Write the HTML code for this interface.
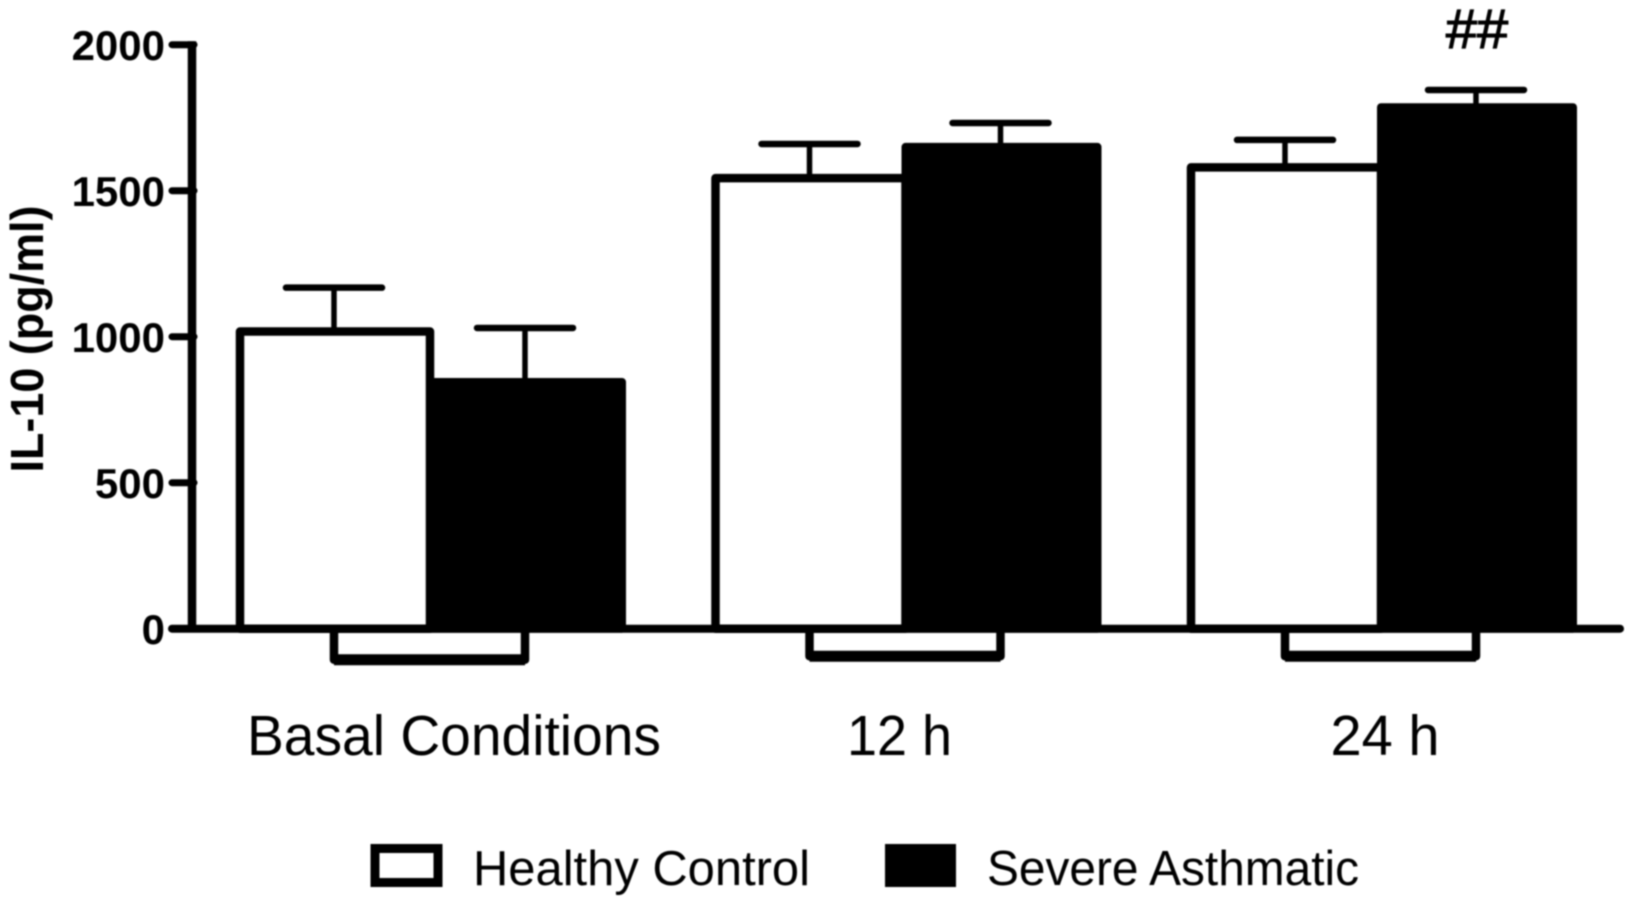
<!DOCTYPE html>
<html lang="en">
<head>
<meta charset="utf-8">
<title>IL-10 bar chart</title>
<style>
html,body{margin:0;padding:0;background:#fff;}
body{width:1625px;height:906px;overflow:hidden;}
svg{display:block;filter:blur(0.7px);}
text{font-family:"Liberation Sans",Arial,sans-serif;fill:#000;}
</style>
</head>
<body>
<svg id="chart" width="1625" height="906" viewBox="0 0 1625 906" xmlns="http://www.w3.org/2000/svg">
  <rect x="0" y="0" width="1625" height="906" fill="#fff"/>
  <g id="marks"></g>
  <g id="axes"></g>
  <text transform="translate(43,339) rotate(-90)" text-anchor="middle" font-size="46" font-weight="bold" textLength="267" lengthAdjust="spacingAndGlyphs">IL-10 (pg/ml)</text>
  <g>
    <rect x="375" y="848.5" width="63" height="34" fill="#fff" stroke="#000" stroke-width="9"/>
    <text x="473" y="885" font-size="49" textLength="337" lengthAdjust="spacingAndGlyphs">Healthy Control</text>
    <rect x="885" y="844" width="71" height="43" fill="#000"/>
    <text x="987" y="885" font-size="49" textLength="372" lengthAdjust="spacingAndGlyphs">Severe Asthmatic</text>
  </g>
  <text x="1477" y="48" text-anchor="middle" font-size="56" stroke="#000" stroke-width="1.2">##</text>
</svg>
<script>
const categories = ["Basal Conditions", "12 h", "24 h"];
const healthyControl = [1018, 1543, 1580];
const severeAsthmatic = [845, 1650, 1786];
const healthyUpper = [1168, 1660, 1674];
const severeUpper = [1030, 1732, 1845];
const yTicks = [0, 500, 1000, 1500, 2000];

const NS = "http://www.w3.org/2000/svg";
const marks = document.getElementById("marks");
const axes = document.getElementById("axes");

function yScale(v) { return 628.7 - v * 0.292; }
function groupX(i) { return 240 + 475.5 * i; }

function mk(tag, parent, attrs) {
  const el = document.createElementNS(NS, tag);
  for (const k in attrs) el.setAttribute(k, attrs[k]);
  parent.appendChild(el);
  return el;
}

function drawError(group, cx, top, upper, name) {
  const stem = mk("line", group, {x1: cx, x2: cx, y1: yScale(top), y2: yScale(upper), stroke: "#000", "stroke-width": 5.5});
  
  
  const cap = mk("line", group, {x1: cx - 48, x2: cx + 48, y1: yScale(upper), y2: yScale(upper), stroke: "#000", "stroke-width": 6.5, "stroke-linecap": "round"});
  
  
}

categories.forEach(function (cat, i) {
  const g = groupX(i);
  const slug = cat.toLowerCase().replace(/\s+/g, '-');

  drawError(marks, g + 94, healthyControl[i], healthyUpper[i], 'healthy-' + slug);
  const white = mk("rect", marks, {x: g, y: yScale(healthyControl[i]), width: 190, height: yScale(0) - yScale(healthyControl[i]), fill: "#fff", stroke: "#000", "stroke-width": 8.5, "stroke-linejoin": "round"});
  
  

  drawError(marks, g + 285, severeAsthmatic[i], severeUpper[i], 'severe-' + slug);
  const black = mk("rect", marks, {x: g + 190, y: yScale(severeAsthmatic[i]), width: 192, height: yScale(0) - yScale(severeAsthmatic[i]), fill: "#000", stroke: "#000", "stroke-width": 8, "stroke-linejoin": "round"});
  
  

  const bottom = yScale(0) + (i === 0 ? 31 : 27.5);
  const bracket = mk("path", axes, {d: "M" + (g + 94) + " " + yScale(0) + "V" + bottom + "H" + (g + 285) + "V" + yScale(0), fill: "none", stroke: "#000", "stroke-width": 8.5, "stroke-linejoin": "round"});
  
  
  const bracketBase = mk("line", axes, {x1: g + 94, x2: g + 285, y1: bottom, y2: bottom, stroke: "#000", "stroke-width": 11});
  
  

  const labelCenter = g + (i === 0 ? 214 : (i === 1 ? 184 : 194));
  const label = mk("text", axes, {x: labelCenter, y: 755, "text-anchor": "middle", "font-size": 57, textLength: i === 0 ? 414 : (i === 1 ? 105 : 109), lengthAdjust: "spacingAndGlyphs"});
  label.textContent = cat;
  
  
});

const yAxis = mk("line", axes, {x1: 192, x2: 192, y1: yScale(2000) - 3.5, y2: yScale(0), stroke: "#000", "stroke-width": 8.5});



const xAxis = mk("line", axes, {x1: 172, x2: 1620, y1: yScale(0), y2: yScale(0), stroke: "#000", "stroke-width": 8, "stroke-linecap": "round"});



yTicks.forEach(function (t) {
  const tick = mk("line", axes, {x1: 172, x2: 194, y1: yScale(t), y2: yScale(t), stroke: "#000", "stroke-width": 7, "stroke-linecap": "round"});
  
  
  const lab = mk("text", axes, {x: 165, y: yScale(t) + 15.5, "text-anchor": "end", "font-size": 42, "font-weight": "bold"});
  lab.textContent = String(t);
  
  
});
</script>
</body>
</html>
